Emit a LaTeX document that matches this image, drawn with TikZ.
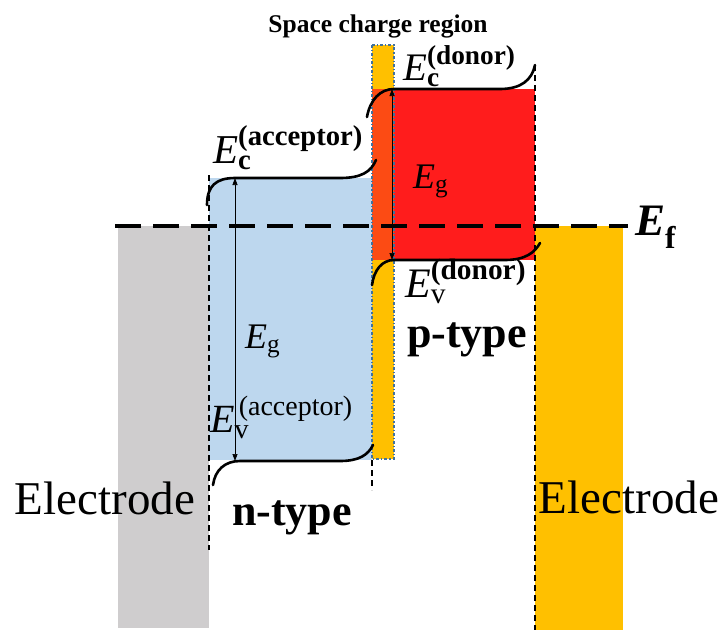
\documentclass[tikz,border=0pt]{standalone}
\usepackage{amsmath}
\usepackage{fontspec}
\setmainfont{Liberation Serif}
\usetikzlibrary{arrows.meta}
\definecolor{electrodegray}{RGB}{207,205,206}
\definecolor{ntypeblue}{RGB}{189,215,238}
\definecolor{ptypered}{RGB}{255,28,28}
\definecolor{metalgold}{RGB}{255,192,0}
\definecolor{overlapred}{RGB}{252,75,20}
\definecolor{stripborder}{RGB}{65,113,156}
\newcommand{\fs}[1]{\fontsize{#1}{#1}\selectfont}
\begin{document}
\begin{tikzpicture}[x=1pt,y=-1pt]
        \tikzstyle{band}=[line width=2.6pt, line cap=round]
        \tikzstyle{edge}=[line width=1.1pt, dash pattern=on 6pt off 4pt]
        \tikzstyle{gap}=[line width=0.7pt, {Triangle[length=7pt,width=5pt]}-{Triangle[length=7pt,width=5pt]}]
        \tikzstyle{lbl}=[inner sep=0pt, anchor=base west]

        \useasboundingbox (0,0) rectangle (726,630);

        % regions
        \fill[electrodegray] (118,226) rectangle (209,628);
        \fill[ntypeblue] (209,178) rectangle (372,460);
        \fill[ptypered] (394,89) rectangle (535,260);
        \fill[metalgold] (372,45) rectangle (394,459);
        \fill[overlapred] (372,89) rectangle (394,260);
        \draw[stripborder, line width=1.2pt, dash dot] (372,45) rectangle (394,459);
        \fill[metalgold] (535,226) rectangle (623,630);

        % band edges
        \coordinate (ecA) at (235,178);
        \coordinate (evA) at (235,461);
        \coordinate (ecD) at (392,89);
        \coordinate (evD) at (392,260);
        \draw[band] (207,205) .. controls (207,186) and (216,178) .. (ecA)
            -- (340,178) .. controls (361,178) and (371,172) .. (376,160);
        \draw[band] (213,485) .. controls (215,470) and (225,461) .. (240,461)
            -- (340,461) .. controls (359,461) and (368,455) .. (373,445);
        \draw[band] (367,117) .. controls (370,100) and (380,89) .. (394,89)
            -- (500,89) .. controls (521,89) and (532,80) .. (535,65);
        \draw[band] (372,285) .. controls (374,270) and (382,260) .. (394,260)
            -- (505,260) .. controls (526,260) and (535,252) .. (540,243);

        % dashed lines
        \draw[edge] (209,175) -- (209,550);
        \draw[edge] (535,65) -- (535,630);
        \draw[edge] (372,460) -- (372,490);
        \draw[line width=3.4pt, dash pattern=on 26pt off 12pt] (115,226) -- (628,226);

        % band gaps
        \draw[gap] (ecA) -- (evA);
        \draw[gap] (ecD) -- (evD);

        % labels
        \node[lbl] (ecAcc) at (213,163) {\fs{41}$\textit{E}_{\textbf{c}}^{\textbf{(acceptor)}}$};
        \node[lbl] (evAcc) at (210,432) {\fs{40}$\textit{E}_{\textrm{v}}^{\,\textrm{(acceptor)}}$};
        \node[lbl] (ecDon) at (403,80) {\fs{39}$\textit{E}_{\textbf{c}}^{\textbf{(donor)}}$};
        \node[lbl] (evDon) at (405,297) {\fs{42}$\textit{E}_{\textrm{v}}^{\textbf{(donor)}}$};
        \node[lbl] (egN) at (245,348) {\fs{36}$\textit{E}_{\textrm{g}}$};
        \node[lbl] (egP) at (413,188) {\fs{36}$\textit{E}_{\textrm{g}}$};
        \node[lbl] (ef) at (635,235) {\fs{45}$\textbf{\textit{E}}_{\textbf{f}}$};
        \node[inner sep=0pt, anchor=base] (scr) at (378,32) {\fs{25.5}\bfseries Space charge region};
        \node[inner sep=0pt, anchor=base] (ntype) at (292,525) {\fs{44}\bfseries n-type};
        \node[inner sep=0pt, anchor=base] (ptype) at (467,347) {\fs{44}\bfseries p-type};
        \node[inner sep=0pt, anchor=base] (elL) at (105,514) {\fs{47}Electrode};
        \node[inner sep=0pt, anchor=base] (elR) at (629,513) {\fs{47}Electrode};
    \end{tikzpicture}
\end{document}
